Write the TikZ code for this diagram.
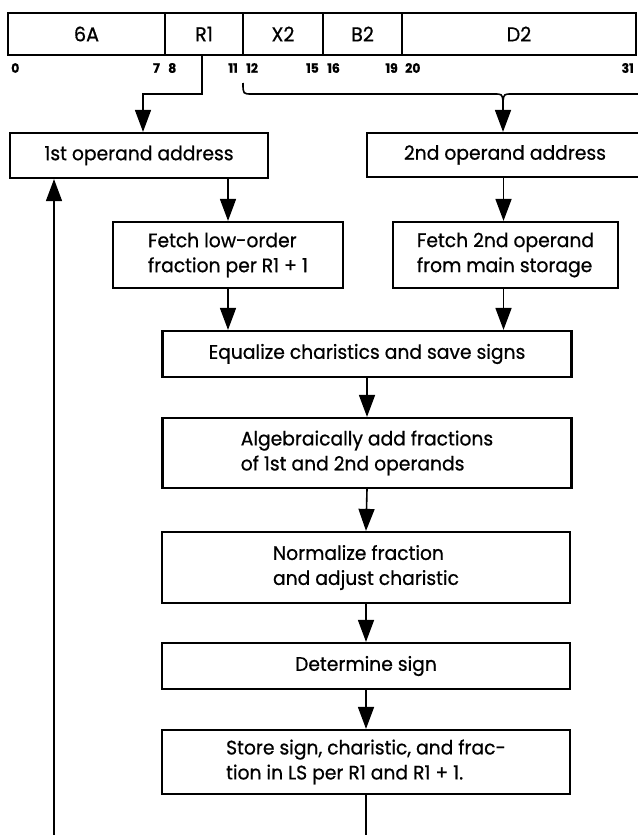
\documentclass[tikz,border=0pt]{standalone}
\usepackage{fontspec}
\setmainfont[FakeStretch=0.96, FakeBold=0.7]{Poppins}
\usetikzlibrary{arrows.meta}

\tikzset{
  fld/.style={draw, line width=1.8pt, inner sep=0pt, minimum height=42pt,
    font=\fontsize{20}{22}\selectfont},
  bit/.style={inner sep=0pt, font=\bfseries\fontsize{13}{15}\selectfont},
  blk/.style={draw, line width=2.2pt, inner sep=0pt, align=left,
    font=\fontsize{19.5}{25}\selectfont},
  conn/.style={line width=1.6pt},
  arr/.style={conn, -{Triangle[length=22pt, width=16pt]}},
}

\begin{document}
\begin{tikzpicture}[x=1pt, y=-1pt]
\useasboundingbox (0,0) rectangle (637,835);

% instruction format fields
\node[fld, minimum width=157pt] (f6A) at (86.5,34) {6A};
\node[fld, minimum width=78pt]  (fR1) at (204,34)  {R1};
\node[fld, minimum width=80pt]  (fX2) at (283,34)  {X2};
\node[fld, minimum width=79pt]  (fB2) at (362.5,34) {B2};
\node[fld, minimum width=234pt] (fD2) at (519,34)  {D2};

% bit positions
\node[bit, anchor=west] (b0)  at (11,68)  {0};
\node[bit, anchor=east] (b7)  at (160,68) {7};
\node[bit, anchor=west] (b8)  at (168,68) {8};
\node[bit, anchor=east] (b11) at (238,68) {11};
\node[bit, anchor=west] (b12) at (246,68) {12};
\node[bit, anchor=east] (b15) at (319,68) {15};
\node[bit, anchor=west] (b16) at (327,68) {16};
\node[bit, anchor=east] (b19) at (398,68) {19};
\node[bit, anchor=west] (b20) at (405,68) {20};
\node[bit, anchor=east] (b31) at (634,68) {31};

% flow boxes
\node[blk, minimum width=258pt, minimum height=45pt] (addr1) at (139,155.5) {1st operand address};
\node[blk, minimum width=276pt, minimum height=44pt] (addr2) at (505,155) {2nd operand address};
\node[blk, minimum width=230pt, minimum height=66pt] (fetch1) at (228,255)
  {Fetch low-order\\fraction per R1 + 1};
\node[blk, minimum width=225pt, minimum height=66pt] (fetch2) at (505.5,255)
  {Fetch 2nd operand\\from main storage};
\node[blk, minimum width=409pt, minimum height=46pt] (equal) at (367,354)
  {Equalize charistics and save signs};
\node[blk, minimum width=409pt, minimum height=70pt] (alg) at (367,453)
  {Algebraically add fractions\\of 1st and 2nd operands};
\node[blk, minimum width=408pt, minimum height=71pt] (norm) at (366,567.5)
  {Normalize fraction\\and adjust charistic};
\node[blk, minimum width=408pt, minimum height=46pt] (det) at (366,666)
  {Determine sign};
\node[blk, minimum width=408pt, minimum height=64pt] (store) at (366,762)
  {Store sign, charistic, and frac-\\tion in LS per R1 and R1 + 1.};

% R1 field to first operand address
\coordinate (e1) at (143,94);
\draw[arr] ([xshift=-2pt]fR1.south) |- (e1) -- (e1 |- addr1.north);

% brace over bits 12-31 to second operand address
\coordinate (bl) at (243,83);
\coordinate (br) at (640,94);
\coordinate (cusp) at (503,101);
\draw[conn] (bl) .. controls (243,94) .. (252,94) -- (494,94)
  .. controls (502,94) .. (cusp);
\draw[conn] (br) -- (512,94) .. controls (504,94) .. (cusp);
\draw[arr] (cusp) -- (cusp |- addr2.north);

% main flow
\draw[arr] (fetch1.north |- addr1.south) -- (fetch1.north);
\draw[arr] ([xshift=-2pt]fetch2.north |- addr2.south) -- ([xshift=-2pt]fetch2.north);
\draw[arr] (fetch1.south) -- (fetch1.south |- equal.north);
\draw[arr] ([xshift=-2pt]fetch2.south) -- ([xshift=-2pt]fetch2.south |- equal.north);
\draw[arr] (equal.south) -- (alg.north);
\draw[arr] (alg.south) -- (norm.north);
\draw[arr] (norm.south) -- (det.north);
\draw[arr] (det.south) -- (store.north);

% loop lines leaving and re-entering
\coordinate (tailA) at (366,835);
\draw[conn] (store.south) -- (tailA);
\coordinate (tailB) at (54,835);
\draw[arr] (tailB) -- (tailB |- addr1.south);
\end{tikzpicture}
\end{document}
